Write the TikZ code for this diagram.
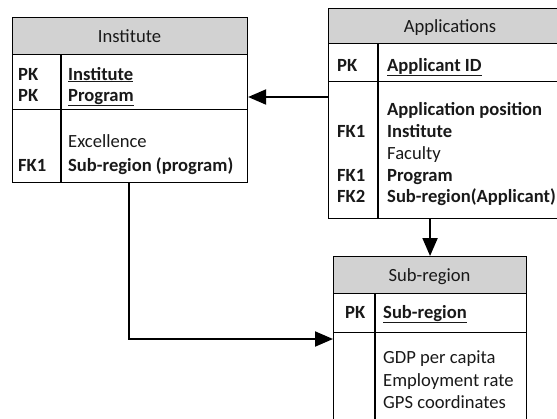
\documentclass[tikz,border=0pt]{standalone}
\usepackage{fontspec}
\setmainfont{Carlito}
\usetikzlibrary{arrows.meta,calc}
\definecolor{hdr}{RGB}{210,210,210}
\definecolor{txt}{RGB}{25,25,25}
\begin{document}
\begin{tikzpicture}[x=1bp,y=-1bp,
  sec/.style={draw=black, line width=1.1bp, inner sep=0pt, anchor=north west},
  hdrsec/.style={sec, fill=hdr},
  lbl/.style={anchor=base west, inner sep=0pt, text=txt, font=\fontsize{18.6bp}{22bp}\selectfont},
  hlbl/.style={anchor=base, inner sep=0pt, text=txt, font=\fontsize{18.6bp}{22bp}\selectfont},
  key/.style={lbl, font=\fontsize{18.6bp}{22bp}\selectfont\bfseries},
  divider/.style={line width=1.1bp},
  link/.style={line width=2bp, -{Triangle[length=18bp,width=15bp]}}]
\useasboundingbox (0,0) rectangle (557,418);

% Institute
\node[hdrsec, minimum width=235bp, minimum height=37bp] (insth) at (12,17) {};
\node[sec, minimum width=235bp, minimum height=55bp] (instpk) at (12,54) {};
\node[sec, minimum width=235bp, minimum height=73bp] (instat) at (12,109) {};
\draw[divider] (61,54) -- (61,182);
\node[hlbl] (t1) at (129.5,42) {Institute};
\node[key] (k1) at (18,80) {PK};
\node[key] (k2) at (18,101) {PK};
\node[key] (f1) at (68,80) {\underline{Institute}};
\node[key] (f2) at (68,101) {\underline{Program}};
\node[lbl] (f3) at (68,147) {Excellence};
\node[key] (k3) at (18,171) {FK1};
\node[key] (f4) at (68,171) {Sub-region (program)};

% Applications
\node[hdrsec, minimum width=244bp, minimum height=35bp] (apph) at (328,8) {};
\node[sec, minimum width=244bp, minimum height=38bp] (apppk) at (328,43) {};
\node[sec, minimum width=244bp, minimum height=137bp] (appat) at (328,81) {};
\draw[divider] (378,43) -- (378,218);
\node[hlbl] (t2) at (450,32) {Applications};
\node[key] (k4) at (337,71) {PK};
\node[key] (g1) at (387,71) {\underline{Applicant ID}};
\node[key] (g2) at (387,115) {Application position};
\node[key] (k5) at (337,137) {FK1};
\node[key] (g3) at (387,137) {Institute};
\node[lbl] (g4) at (387,159) {Faculty};
\node[key] (k6) at (337,181) {FK1};
\node[key] (g5) at (387,181) {Program};
\node[key] (k7) at (337,202) {FK2};
\node[key] (g6) at (387,202) {Sub-region(Applicant)};

% Sub-region
\node[hdrsec, minimum width=193bp, minimum height=37bp] (subh) at (333,256) {};
\node[sec, minimum width=193bp, minimum height=39bp] (subpk) at (333,293) {};
\node[sec, minimum width=193bp, minimum height=93bp] (subat) at (333,332) {};
\draw[divider] (375,293) -- (375,425);
\node[hlbl] (t3) at (429.5,281) {Sub-region};
\node[key] (k8) at (345,318) {PK};
\node[key] (h1) at (383,318) {\underline{Sub-region}};
\node[lbl] (h2) at (383,363) {GDP per capita};
\node[lbl] (h3) at (383,386) {Employment rate};
\node[lbl] (h4) at (383,408) {GPS coordinates};

% connectors
\coordinate (a1) at ($(appat.north west)+(0,16)$);
\draw[link] (a1) -- (a1 -| instpk.east);
\draw[link] (appat.south -| subh.north) -- (subh.north);
\coordinate (a2) at ($(subat.north west)+(0,7)$);
\draw[link] (instat.south -| 129,0) |- (a2);
\end{tikzpicture}
\end{document}
